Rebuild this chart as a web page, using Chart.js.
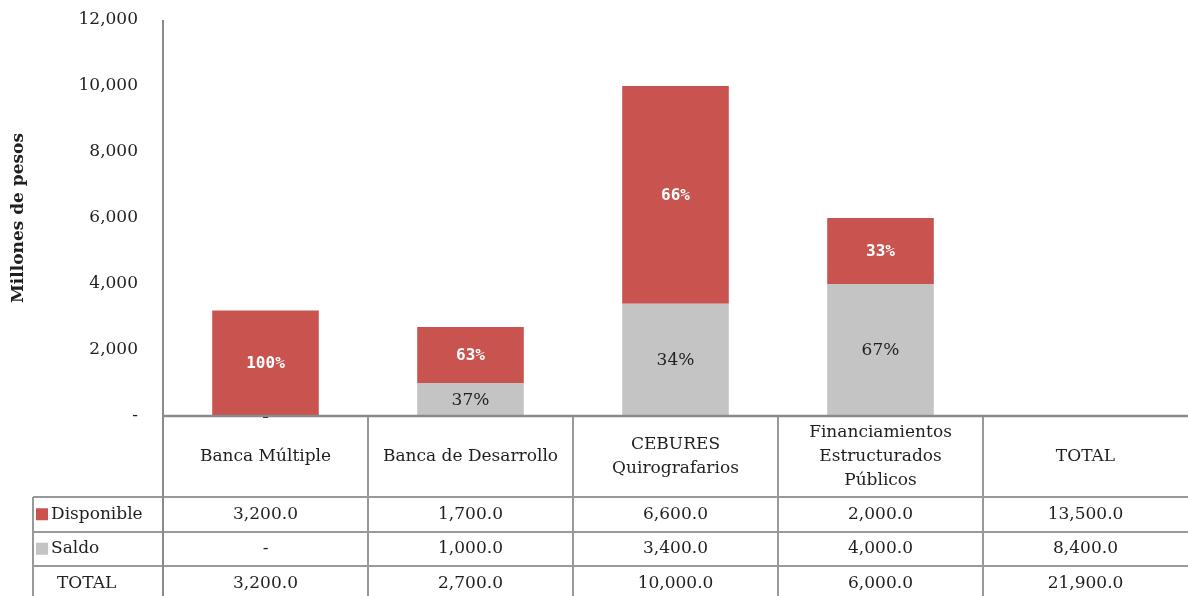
<!DOCTYPE html>
<html>
<head>
<meta charset="utf-8">
<script src="https://cdn.jsdelivr.net/npm/chart.js@4.4.0/dist/chart.umd.min.js"></script>
<style>
    html, body { margin: 0; padding: 0; background: #fff; }
    #wrap { width: 1188px; height: 596px; }
</style>
</head>
<body>
<div id="wrap"><canvas id="chart" width="1188" height="596"></canvas></div>
<script>
// Data
const categories = [
    ['Banca Múltiple'],
    ['Banca de Desarrollo'],
    ['CEBURES', 'Quirografarios'],
    ['Financiamientos', 'Estructurados', 'Públicos'],
    ['TOTAL']
];
const disponible = [3200, 1700, 6600, 2000, 13500];
const saldo = [0, 1000, 3400, 4000, 8400];
const seriesNames = ['Disponible', 'Saldo'];

const RED = '#C9534F';
const GREY = '#C4C4C4';
const LINE = '#999999';
const TEXT = '#1f1f1f';
const SERIF = '"DejaVu Serif", serif';

// the TOTAL column only lives in the table, no bar for it
const isTotal = i => categories[i][0] === 'TOTAL';
const fmt = v => v === 0 ? '-' : v.toLocaleString('en-US', { minimumFractionDigits: 1, maximumFractionDigits: 1 });

const barLabels = {
    id: 'barLabels',
    afterDatasetsDraw(chart) {
        const ctx = chart.ctx;
        ctx.save();
        ctx.textAlign = 'center';
        ctx.textBaseline = 'middle';
        chart.data.datasets.forEach((ds, di) => {
            const meta = chart.getDatasetMeta(di);
            meta.data.forEach((bar, i) => {
                const v = ds.data[i];
                if (v === null || v === undefined) return;
                const total = disponible[i] + saldo[i];
                const mid = (bar.y + bar.base) / 2;
                if (v === 0) {
                    ctx.fillStyle = TEXT;
                    ctx.font = 'bold 17px ' + SERIF;
                    ctx.fillText('-', bar.x, bar.base + 1);
                    return;
                }
                const pct = Math.round(v / total * 100) + '%';
                if (ds.label === 'Disponible') {
                    ctx.fillStyle = '#ffffff';
                    ctx.font = 'bold 16px "DejaVu Sans Mono", monospace';
                } else {
                    ctx.fillStyle = TEXT;
                    ctx.font = '17px ' + SERIF;
                }
                ctx.fillText(pct, bar.x, mid + 1);
            });
        });
        ctx.restore();
    }
};

const dataTable = {
    id: 'dataTable',
    afterDraw(chart) {
        const ctx = chart.ctx;
        const area = chart.chartArea;
        const xs = chart.scales.x;
        const colW = (area.right - area.left) / categories.length;
        const headTop = area.bottom;
        const headBottom = headTop + 81;
        const rowH = 34.5;
        const tableLeft = 33;
        const bottom = chart.height + 2;

        ctx.save();
        ctx.strokeStyle = LINE;
        ctx.lineWidth = 2;

        // column dividers
        for (let i = 1; i < categories.length; i++) {
            const x = Math.round(area.left + colW * i);
            ctx.beginPath(); ctx.moveTo(x, headTop); ctx.lineTo(x, bottom); ctx.stroke();
        }
        // row lines
        for (let r = 0; r < 3; r++) {
            const y = Math.round(headBottom + rowH * r);
            ctx.beginPath(); ctx.moveTo(tableLeft, y); ctx.lineTo(area.right, y); ctx.stroke();
        }
        ctx.beginPath(); ctx.moveTo(tableLeft, headBottom); ctx.lineTo(tableLeft, bottom); ctx.stroke();

        // axes on top of bars
        ctx.strokeStyle = '#8a8a8a';
        ctx.beginPath(); ctx.moveTo(area.left, area.top); ctx.lineTo(area.left, bottom); ctx.stroke();
        ctx.lineWidth = 2.5;
        ctx.beginPath(); ctx.moveTo(area.left, area.bottom); ctx.lineTo(area.right, area.bottom); ctx.stroke();

        ctx.fillStyle = TEXT;
        ctx.font = '17px ' + SERIF;
        ctx.textAlign = 'center';
        ctx.textBaseline = 'middle';

        // header cells
        categories.forEach((lines, i) => {
            const cx = xs.getPixelForValue(i);
            const lh = 24;
            const y0 = (headTop + headBottom) / 2 - (lines.length - 1) * lh / 2;
            lines.forEach((t, k) => ctx.fillText(t, cx, y0 + k * lh));
        });

        // value rows
        const rows = [disponible, saldo, disponible.map((v, i) => v + saldo[i])];
        rows.forEach((vals, r) => {
            const cy = headBottom + rowH * r + rowH / 2;
            vals.forEach((v, i) => ctx.fillText(fmt(v), xs.getPixelForValue(i), cy));
        });

        // row legend
        ctx.textAlign = 'left';
        [RED, GREY].forEach((c, r) => {
            const cy = headBottom + rowH * r + rowH / 2;
            ctx.fillStyle = c;
            ctx.fillRect(36, cy - 6, 12, 12);
            ctx.fillStyle = TEXT;
            ctx.fillText(seriesNames[r], 51, cy);
        });
        ctx.fillText('TOTAL', 57, headBottom + rowH * 2 + rowH / 2);
        ctx.restore();
    }
};

new Chart(document.getElementById('chart'), {
    type: 'bar',
    data: {
        labels: categories.map(c => c.join(' ')),
        datasets: [
            {
                label: 'Saldo',
                data: saldo.map((v, i) => isTotal(i) ? null : v),
                backgroundColor: GREY
            },
            {
                label: 'Disponible',
                data: disponible.map((v, i) => isTotal(i) ? null : v),
                backgroundColor: RED
            }
        ]
    },
    options: {
        responsive: false,
        animation: false,
        devicePixelRatio: 1,
        layout: { padding: { top: 20, bottom: 180, left: 0, right: 0 } },
        datasets: { bar: { categoryPercentage: 1, barPercentage: 0.52 } },
        plugins: { legend: { display: false }, tooltip: { enabled: false } },
        scales: {
            x: {
                stacked: true,
                grid: { display: false },
                border: { display: false },
                ticks: { display: false },
                afterFit: s => { s.height = 0; }
            },
            y: {
                stacked: true,
                min: 0,
                max: 12000,
                // tick padding would otherwise push the plot top down
                afterFit: s => { s.width = 163; s.paddingTop = 10; s.paddingBottom = 10; },
                grid: { display: false, drawTicks: false },
                border: { display: false },
                ticks: {
                    stepSize: 2000,
                    padding: 25,
                    color: TEXT,
                    font: { family: SERIF, size: 17 },
                    callback: v => v === 0 ? '-' : v.toLocaleString('en-US')
                },
                title: {
                    display: true,
                    text: 'Millones de pesos',
                    color: TEXT,
                    font: { family: SERIF, size: 17, weight: 'bold' },
                    padding: { top: 8, bottom: 4 }
                }
            }
        }
    },
    plugins: [barLabels, dataTable]
});
</script>
</body>
</html>
